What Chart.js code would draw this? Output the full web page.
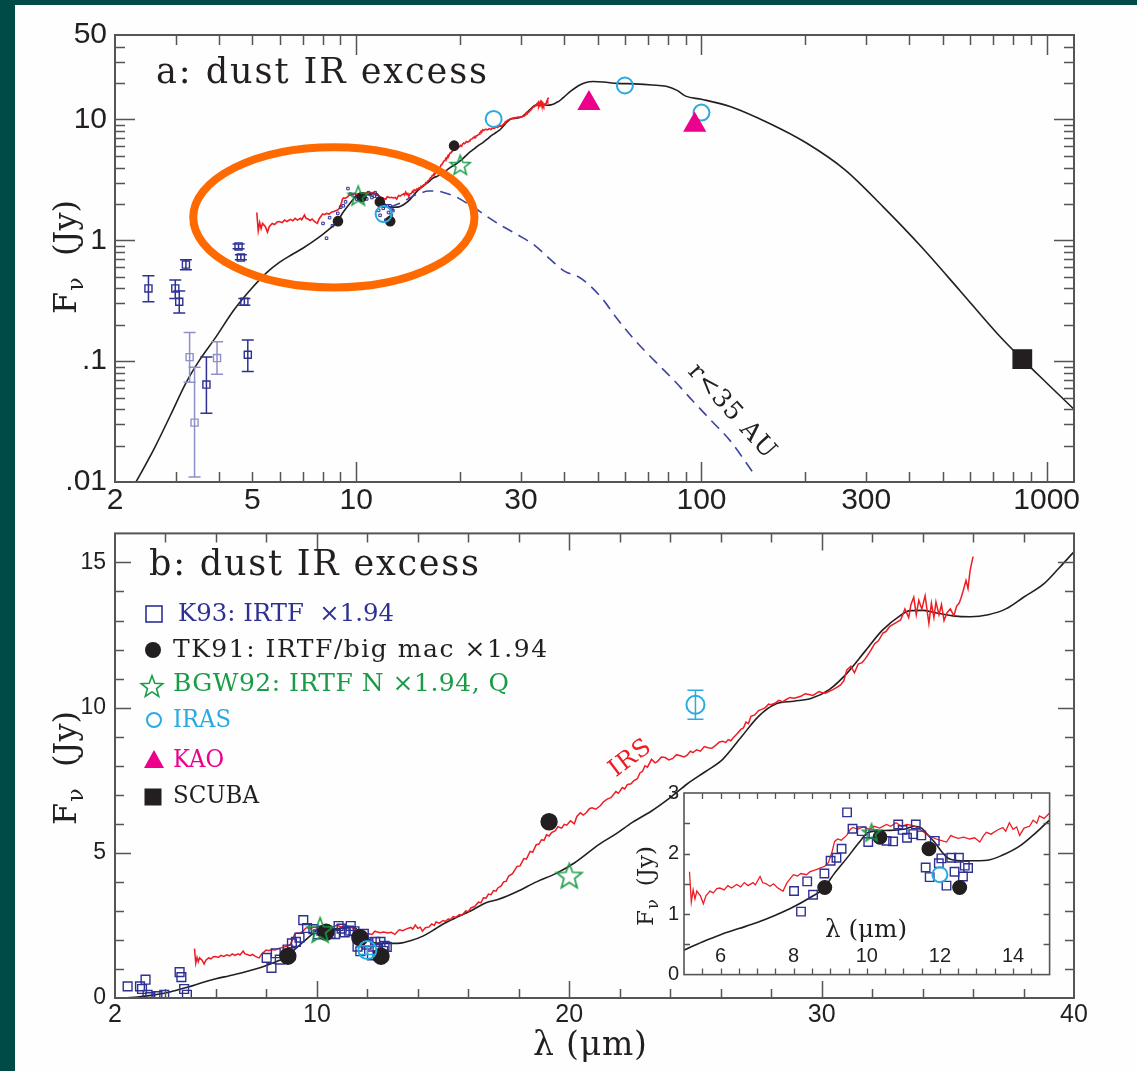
<!DOCTYPE html>
<html>
<head>
<meta charset="utf-8">
<title>dust IR excess</title>
<script src="https://cdn.jsdelivr.net/npm/chart.js@4.4.1/dist/chart.umd.min.js"></script>
<style>
  html, body { margin: 0; padding: 0; }
  body { width: 1137px; height: 1071px; background: #004a47; position: relative; overflow: hidden; }
  #sheet { position: absolute; left: 15px; top: 5px; right: 0; bottom: 0; background: #fdfefd; }
  canvas { position: absolute; }
  #top { left: 0; top: 0; }
  #bottom { left: 0; top: 520px; }
  #inset { left: 620px; top: 770px; }
</style>
</head>
<body>
<div id="sheet"></div>
<canvas id="top" width="1137" height="520"></canvas>
<canvas id="bottom" width="1137" height="551"></canvas>
<canvas id="inset" width="440" height="215"></canvas>
<script>
// ---------------- data ----------------
// total model SED (wavelength in micron, flux in Jy)
const modelLam = [2.0, 2.3, 2.6, 2.9, 3.2, 3.5, 3.9, 4.4, 4.9, 5.5, 6.0, 6.5, 7.0, 7.5, 8.0, 8.5, 8.8, 9.1, 9.45, 9.8,
  10.05, 10.5, 11.0, 11.3, 11.5, 11.65, 11.85, 12.05, 12.2, 12.4, 12.8, 13.3, 13.7, 14.2, 14.6, 15.0, 15.65, 16.2, 16.7, 17.2,
  17.9, 18.7, 19.5, 20.2, 21.2, 21.85, 22.5, 23.26, 24.0, 24.67, 25.4, 26.08, 26.8, 27.5, 28.2, 28.9, 29.6, 30.3, 31.0, 31.7,
  32.4, 33.1, 33.5, 34.0, 34.5, 35.2, 35.9, 36.6, 37.3, 38.0, 38.8, 39.4, 40.0, 42, 44, 46, 48.6, 52, 57, 64,
  72, 79, 85, 90, 100, 121, 157, 202, 261, 336, 434, 560, 721, 849, 1000, 1200];
const modelFlux = [0.005, 0.010, 0.019, 0.036, 0.065, 0.10, 0.155, 0.26, 0.38, 0.54, 0.66, 0.76, 0.86, 0.98, 1.12, 1.29, 1.41, 1.66, 1.92, 2.19,
  2.35, 2.38, 2.40, 2.45, 2.42, 2.32, 2.19, 2.03, 1.93, 1.89, 1.88, 1.89, 1.97, 2.13, 2.33, 2.55, 2.82, 3.05, 3.28, 3.40,
  3.65, 4.00, 4.30, 4.65, 5.30, 5.65, 6.05, 6.44, 6.90, 7.37, 7.80, 8.22, 8.97, 9.70, 10.13, 10.22, 10.32, 10.62, 11.18, 11.92,
  12.66, 13.16, 13.34, 13.35, 13.27, 13.16, 13.13, 13.20, 13.40, 13.80, 14.26, 14.80, 15.37, 17.3, 19.0, 20.1, 20.6, 20.4, 19.9, 19.7,
  19.3, 18.8, 17.4, 15.6, 14.7, 12.8, 9.3, 6.35, 3.81, 1.89, 0.88, 0.385, 0.168, 0.104, 0.066, 0.040];

// inner-disk component (r < 35 AU)
const innerLam = [12.5, 13.5, 14.5, 15.3, 16.2, 17.2, 18.2, 19.4, 20.5, 21.8, 23.2, 26.0, 29.5, 33.0, 36.0, 40.3, 44.0, 47.6,
  52.0, 56.6, 64.0, 73.3, 83.0, 94.3, 107, 121, 141];
const innerFlux = [1.88, 2.05, 2.30, 2.45, 2.56, 2.55, 2.45, 2.30, 2.10, 1.90, 1.67, 1.35, 1.10, 0.90, 0.72, 0.55, 0.50, 0.42,
  0.32, 0.23, 0.15, 0.10, 0.07, 0.047, 0.032, 0.022, 0.012];

// Spitzer IRS spectrum
const irsLam = [
  5.15, 5.2, 5.25, 5.3, 5.35, 5.45, 5.53, 5.6, 5.71, 5.8,
  5.9, 5.98, 6.1, 6.2, 6.3, 6.44, 6.55, 6.65, 6.75, 6.89,
  6.95, 7.08, 7.15, 7.25, 7.35, 7.45, 7.55, 7.65, 7.71, 7.81,
  7.9, 7.99, 8.1, 8.2, 8.35, 8.45, 8.6, 8.72, 8.85, 8.95,
  9.05, 9.12, 9.2, 9.3, 9.45, 9.55, 9.62, 9.75, 9.9, 10.08,
  10.2, 10.35, 10.54, 10.65, 10.8, 10.95, 11.1, 11.27, 11.4, 11.5,
  11.63, 11.75, 11.9, 12.0, 12.18, 12.3, 12.36, 12.5, 12.65, 12.81,
  12.95, 13.09, 13.2, 13.27, 13.4, 13.55, 13.72, 13.8, 13.9, 14.0,
  14.1, 14.18, 14.3, 14.45, 14.55, 14.65, 14.72, 14.85, 15.0, 15.1,
  15.2, 15.3, 15.4, 15.5, 15.65, 15.75, 15.9, 16.0, 16.1, 16.25,
  16.4, 16.5, 16.6, 16.7, 16.8, 16.9, 17.0, 17.1, 17.17, 17.3,
  17.4, 17.5, 17.6, 17.75, 17.93, 18.05, 18.2, 18.3, 18.45, 18.55,
  18.69, 18.8, 18.9, 19.0, 19.1, 19.2, 19.3, 19.45, 19.55, 19.7,
  19.8, 19.9, 20.05, 20.2, 20.3, 20.44, 20.55, 20.67, 20.8, 20.9,
  21.05, 21.24, 21.35, 21.5, 21.65, 21.85, 21.95, 22.1, 22.2, 22.3,
  22.45, 22.55, 22.7, 22.8, 22.9, 23.0, 23.1, 23.26, 23.4, 23.5,
  23.65, 23.8, 23.95, 24.1, 24.25, 24.4, 24.55, 24.67, 24.8, 24.9,
  25.05, 25.2, 25.35, 25.5, 25.65, 25.8, 25.95, 26.08, 26.2, 26.3,
  26.4, 26.5, 26.65, 26.8, 26.9, 27.0, 27.1, 27.2, 27.35, 27.5,
  27.65, 27.77, 27.9, 28.0, 28.15, 28.3, 28.45, 28.6, 28.75, 28.9,
  29.05, 29.2, 29.35, 29.5, 29.65, 29.8, 29.9, 30.0, 30.15, 30.3,
  30.45, 30.6, 30.75, 30.88, 31.0, 31.16, 31.3, 31.45, 31.6, 31.72,
  31.9, 32.0, 32.1, 32.25, 32.43, 32.55, 32.7, 32.9, 33.0, 33.13,
  33.3, 33.45, 33.54, 33.65, 33.75, 33.85, 33.97, 34.1, 34.25, 34.35,
  34.45, 34.53, 34.65, 34.75, 34.85, 34.97, 35.1, 35.24, 35.35, 35.45,
  35.52, 35.6, 35.72, 35.8, 35.88, 35.95, 36.0];
const irsFlux = [
  1.70, 1.20, 1.40, 1.25, 1.38, 1.30, 1.17, 1.30, 1.38, 1.35,
  1.42, 1.43, 1.40, 1.47, 1.43, 1.49, 1.45, 1.52, 1.47, 1.52,
  1.48, 1.62, 1.52, 1.50, 1.46, 1.50, 1.44, 1.40, 1.38, 1.51,
  1.58, 1.65, 1.63, 1.67, 1.65, 1.70, 1.73, 1.76, 1.79, 1.85,
  2.03, 2.20, 2.24, 2.22, 2.30, 2.40, 2.43, 2.40, 2.44, 2.40,
  2.45, 2.42, 2.48, 2.45, 2.51, 2.45, 2.48, 2.46, 2.42, 2.38,
  2.32, 2.28, 2.24, 2.22, 2.19, 2.30, 2.28, 2.25, 2.27, 2.24,
  2.26, 2.19, 2.30, 2.35, 2.32, 2.38, 2.43, 2.37, 2.51, 2.40,
  2.44, 2.30, 2.42, 2.45, 2.55, 2.50, 2.62, 2.58, 2.67, 2.64,
  2.72, 2.70, 2.80, 2.78, 2.87, 2.85, 3.00, 2.97, 3.10, 3.15,
  3.30, 3.28, 3.45, 3.44, 3.58, 3.56, 3.70, 3.68, 3.79, 3.86,
  4.00, 4.02, 4.20, 4.28, 4.53, 4.55, 4.80, 4.78, 5.05, 5.02,
  5.28, 5.30, 5.45, 5.43, 5.62, 5.58, 5.70, 5.76, 5.90, 5.85,
  5.98, 5.95, 6.10, 6.00, 6.25, 6.38, 6.30, 6.38, 6.52, 6.55,
  6.50, 6.63, 6.75, 6.85, 6.90, 7.11, 7.05, 7.25, 7.20, 7.35,
  7.38, 7.48, 7.55, 7.75, 7.80, 8.00, 7.95, 8.22, 8.10, 8.15,
  8.30, 8.28, 8.20, 8.25, 8.38, 8.34, 8.30, 8.36, 8.50, 8.45,
  8.55, 8.50, 8.66, 8.62, 8.60, 8.70, 8.82, 8.84, 8.80, 8.90,
  8.86, 8.96, 9.10, 9.25, 9.30, 9.50, 9.45, 9.70, 9.75, 9.90,
  9.95, 10.00, 10.12, 10.10, 10.15, 10.25, 10.20, 10.28, 10.35, 10.32,
  10.36, 10.40, 10.48, 10.45, 10.42, 10.50, 10.55, 10.52, 10.50, 10.56,
  10.62, 10.70, 10.78, 10.93, 11.30, 11.43, 11.20, 11.50, 11.55, 11.67,
  11.90, 12.05, 12.20, 12.30, 12.57, 12.62, 12.80, 12.90, 12.95, 13.02,
  13.40, 13.10, 13.55, 13.80, 13.20, 13.70, 13.39, 13.85, 12.90, 13.60,
  13.10, 13.64, 13.20, 13.55, 13.00, 13.27, 13.40, 13.16, 13.50, 13.60,
  13.77, 14.00, 14.38, 14.10, 14.70, 15.00, 15.20];

// K93: IRTF photometry (x1.94), with error bars
const k93Lam = [2.50, 2.99, 3.07, 3.21, 3.68, 4.56, 4.63, 4.74, 4.85];
const k93Flux = [0.40, 0.40, 0.31, 0.63, 0.064, 0.89, 0.72, 0.31, 0.113];
const k93Lo = [0.31, 0.33, 0.25, 0.57, 0.037, 0.85, 0.69, 0.29, 0.082];
const k93Hi = [0.51, 0.47, 0.38, 0.69, 0.108, 0.93, 0.76, 0.33, 0.150];
// K93 low-weight points
const k93WeakLam = [3.29, 3.40, 3.95];
const k93WeakFlux = [0.108, 0.031, 0.106];
const k93WeakLo = [0.067, 0.011, 0.078];
const k93WeakHi = [0.173, 0.089, 0.145];
// K93 N-band spectrophotometry
const k93nLam = [8.01, 8.20, 8.37, 8.53, 8.84, 9.01, 9.17, 9.31, 9.46, 9.61, 9.86, 10.04, 10.18, 10.54, 10.72, 10.86, 10.98,
  11.10, 11.27, 11.34, 11.49, 11.61, 11.72, 11.86, 11.97, 12.04, 12.18, 12.31, 12.40, 12.52, 12.63, 12.68, 12.77];
const k93nFlux = [1.38, 1.04, 1.54, 1.32, 1.67, 1.88, 1.93, 2.08, 2.68, 2.41, 2.37, 2.19, 2.32, 2.21, 2.20, 2.48, 2.39,
  2.26, 2.32, 2.48, 2.30, 1.77, 1.61, 2.21, 1.84, 1.92, 1.47, 1.93, 1.70, 1.93, 1.62, 1.80, 1.76];

// TK91: IRTF / big mac (x1.94)
const tk91Lam = [8.85, 10.36, 11.70, 12.54, 19.2];
const tk91Flux = [1.44, 2.27, 2.08, 1.44, 6.07];
// BGW92: IRTF N (x1.94), Q
const bgwLam = [10.13, 20.0];
const bgwFlux = [2.35, 4.22];
// IRAS
const irasLam = [12, 25, 60, 100];
const irasFlux = [1.65, 10.1, 19.1, 11.4];
const irasLo = [1.50, 9.6, 18.3, 10.8];
const irasHi = [1.80, 10.6, 19.9, 12.0];
// KAO
const kaoLam = [47.2, 95.6];
const kaoFlux = [13.6, 9.0];
// SCUBA
const scubaLam = [850];
const scubaFlux = [0.104];

// tick labels
const topXTicks = [2, 5, 10, 30, 100, 300, 1000];
const topYTicks = [0.01, 0.1, 1, 10, 50];
const botXTicks = [2, 10, 20, 30, 40];
const botYTicks = [0, 5, 10, 15];
const insetXTicks = [6, 8, 10, 12, 14];
const insetYTicks = [0, 1, 2, 3];

// highlighted region in panel a (lambda range, flux range)
const ringLam = [3.37, 22.0];
const ringFlux = [0.407, 5.9];

// ---------------- styling ----------------
const serif = '"DejaVu Serif", "Liberation Serif", serif';
const sansFamily = '"Liberation Sans", Arial, sans-serif';
const ink = '#231f20';
const frameInk = '#555555';
const k93Blue = '#2e3192';
const k93Weak = '#8e90c8';
const green = '#1a9b48';
const irasBlue = '#29abe2';
const kaoPink = '#ec008c';
const irsRed = '#ef1c24';
const innerBlue = '#3d43a0';

const pts = (xs, ys) => xs.map((x, i) => ({ x, y: ys[i] }));

function starMark(size, color, lw) {
  const c = document.createElement('canvas');
  c.width = c.height = size;
  const g = c.getContext('2d');
  const R = size / 2 - lw, r = R * 0.42, cx = size / 2, cy = size / 2 + R * 0.1;
  g.beginPath();
  for (let i = 0; i < 10; i++) {
    const a = -Math.PI / 2 + i * Math.PI / 5, d = i % 2 ? r : R;
    g.lineTo(cx + d * Math.cos(a), cy + d * Math.sin(a));
  }
  g.closePath();
  g.strokeStyle = color;
  g.lineWidth = lw;
  g.stroke();
  return c;
}

// draws a string fitted to a given width (letter spacing, or squeeze if too wide)
function spacedText(ctx, str, x, y, width, font, color, align) {
  ctx.save();
  ctx.font = font;
  ctx.fillStyle = color;
  ctx.textBaseline = 'alphabetic';
  ctx.textAlign = 'left';
  const natural = ctx.measureText(str).width;
  const x0 = align === 'center' ? x - width / 2 : x;
  const gap = (width - natural) / Math.max(str.length - 1, 1);
  if ('letterSpacing' in ctx && gap > 0) {
    ctx.letterSpacing = gap.toFixed(2) + 'px';
    ctx.fillText(str, x0, y);
  } else {
    ctx.translate(x0, y);
    ctx.scale(width / natural, 1);
    ctx.fillText(str, 0, 0);
  }
  ctx.restore();
}

function rotatedText(ctx, str, cx, cy, deg, width, size, color) {
  ctx.save();
  ctx.translate(cx, cy);
  ctx.rotate(deg * Math.PI / 180);
  spacedText(ctx, str, 0, size * 0.35, width, `${size}px ${serif}`, color, 'center');
  ctx.restore();
}

// vertical "F_nu (Jy)" axis title; x is the baseline, y the centre
function drawFnu(ctx, x, y, size, span) {
  ctx.save();
  ctx.translate(x, y);
  ctx.rotate(-Math.PI / 2);
  ctx.fillStyle = ink;
  const big = `${size}px ${serif}`, small = `${Math.round(size * 0.68)}px ${serif}`;
  ctx.font = big;
  const wF = ctx.measureText('F').width, wJ = ctx.measureText('(Jy)').width;
  ctx.font = small;
  const wN = ctx.measureText('ν').width;
  const space = span - wF - wN - wJ;
  let p = -span / 2;
  ctx.font = big; ctx.fillText('F', p, 0); p += wF + 1;
  ctx.font = small; ctx.fillText('ν', p, size * 0.22); p += wN + space - 1;
  ctx.font = big; ctx.fillText('(Jy)', p, 0);
  ctx.restore();
}

function axis(o) {
  return {
    type: o.type, min: o.min, max: o.max, bounds: 'data',
    afterBuildTicks: s => { s.ticks = o.values.map(v => ({ value: v })); },
    afterFit: s => {
      if (o.horizontal) s.height = o.size; else s.width = o.size;
      s.paddingLeft = s.paddingRight = s.paddingTop = s.paddingBottom = 0;
    },
    grid: { display: false, drawTicks: false },
    border: { display: false },
    ticks: {
      display: o.show !== false, autoSkip: false, maxRotation: 0, minRotation: 0,
      padding: o.pad, color: ink, font: { family: sansFamily, size: o.font },
      callback: o.fmt || (v => String(v))
    }
  };
}

// frame with inward ticks on all four sides
function frameTicks(spec) {
  return {
    id: 'frameTicks',
    afterDatasetsDraw(chart) {
      const { ctx, chartArea: a, scales: { x, y } } = chart;
      ctx.save();
      ctx.strokeStyle = frameInk;
      ctx.lineWidth = spec.tickWidth;
      ctx.beginPath();
      const xt = (vals, len) => vals.forEach(v => {
        const px = Math.round(x.getPixelForValue(v)) + 0.5;
        ctx.moveTo(px, a.bottom); ctx.lineTo(px, a.bottom - len);
        ctx.moveTo(px, a.top); ctx.lineTo(px, a.top + len);
      });
      const yt = (vals, len) => vals.forEach(v => {
        const py = Math.round(y.getPixelForValue(v)) + 0.5;
        ctx.moveTo(a.left, py); ctx.lineTo(a.left + len, py);
        ctx.moveTo(a.right, py); ctx.lineTo(a.right - len, py);
      });
      xt(spec.xMinor, spec.xMinorLen); xt(spec.xMajor, spec.xMajorLen);
      yt(spec.yMinor, spec.yMinorLen); yt(spec.yMajor, spec.yMajorLen);
      ctx.stroke();
      ctx.lineWidth = spec.frameWidth;
      ctx.strokeRect(a.left, a.top, a.right - a.left, a.bottom - a.top);
      ctx.restore();
    }
  };
}

const errorBars = {
  id: 'errorBars',
  afterDatasetsDraw(chart) {
    const { ctx, chartArea: a, scales: { y } } = chart;
    ctx.save();
    ctx.beginPath();
    ctx.rect(a.left, a.top, a.right - a.left, a.bottom - a.top);
    ctx.clip();
    chart.data.datasets.forEach((ds, i) => {
      if (!ds.errLo) return;
      ctx.strokeStyle = ds.errColor;
      ctx.lineWidth = 1.5;
      chart.getDatasetMeta(i).data.forEach((pt, j) => {
        const t = y.getPixelForValue(ds.errHi[j]), b = y.getPixelForValue(ds.errLo[j]), c = ds.errCap;
        ctx.beginPath();
        ctx.moveTo(pt.x, t); ctx.lineTo(pt.x, b);
        ctx.moveTo(pt.x - c, t); ctx.lineTo(pt.x + c, t);
        ctx.moveTo(pt.x - c, b); ctx.lineTo(pt.x + c, b);
        ctx.stroke();
      });
    });
    ctx.restore();
  }
};

const lineSet = (xs, ys, color, width, extra) => Object.assign({
  data: pts(xs, ys), showLine: true, pointRadius: 0, borderColor: color, borderWidth: width,
  tension: 0, order: 5
}, extra);
const smooth = { cubicInterpolationMode: 'monotone' };

const markSet = (xs, ys, extra) => Object.assign({
  data: pts(xs, ys), showLine: false, order: 1, pointBorderWidth: 1.4,
  pointBackgroundColor: 'rgba(0,0,0,0)'
}, extra);

const baseOptions = (padding, x, y) => ({
  responsive: false, animation: false, devicePixelRatio: 1, events: [],
  layout: { padding },
  plugins: { legend: { display: false }, tooltip: { enabled: false } },
  scales: { x, y }
});

function logMinor(lo, hi) {
  const out = [];
  for (let e = -3; e <= 4; e++) {
    for (let m = 2; m <= 9; m++) {
      const v = +(m * Math.pow(10, e)).toPrecision(3);
      if (v > lo && v < hi) out.push(v);
    }
  }
  return out;
}
function stepTicks(lo, hi, step, skip) {
  const out = [];
  for (let v = lo; v <= hi + 1e-9; v += step) {
    const r = +v.toFixed(2);
    if (!skip.includes(r)) out.push(r);
  }
  return out;
}

// ---------------- panel a: log-log SED ----------------
const topNotes = {
  id: 'topNotes',
  afterDatasetsDraw(chart) {
    const { ctx, scales: { x, y } } = chart;
    const l = x.getPixelForValue(ringLam[0]), r = x.getPixelForValue(ringLam[1]);
    const t = y.getPixelForValue(ringFlux[1]), b = y.getPixelForValue(ringFlux[0]);
    ctx.save();
    ctx.strokeStyle = '#ff6a00';
    ctx.lineWidth = 8;
    ctx.beginPath();
    ctx.ellipse((l + r) / 2, (t + b) / 2, (r - l) / 2, (b - t) / 2, 0, 0, 2 * Math.PI);
    ctx.stroke();
    ctx.restore();
    spacedText(ctx, 'a: dust IR excess', 156, 83, 331, `35px ${serif}`, ink);
    drawFnu(ctx, 76, 257, 32, 114);
    rotatedText(ctx, 'r<35 AU', 733, 410, 48, 118, 25, ink);
  }
};

new Chart(document.getElementById('top'), {
  type: 'scatter',
  data: {
    datasets: [
      markSet(scubaLam, scubaFlux, { pointStyle: 'rect', pointRadius: 13, pointBorderColor: ink, pointBackgroundColor: ink }),
      markSet(kaoLam, kaoFlux, { pointStyle: 'triangle', pointRadius: 12, pointBorderColor: kaoPink, pointBackgroundColor: kaoPink }),
      markSet(irasLam, irasFlux, { pointStyle: 'circle', pointRadius: 8, pointBorderWidth: 2, pointBorderColor: irasBlue }),
      markSet(bgwLam, bgwFlux, { pointStyle: starMark(24, green, 1.5), pointRadius: 10 }),
      markSet(tk91Lam, tk91Flux, { pointStyle: 'circle', pointRadius: 4.6, pointBorderColor: ink, pointBackgroundColor: ink }),
      markSet(k93nLam, k93nFlux, { pointStyle: 'rect', pointRadius: 1.8, pointBorderWidth: 1, pointBorderColor: k93Blue }),
      markSet(k93Lam, k93Flux, { pointStyle: 'rect', pointRadius: 5, pointBorderColor: k93Blue,
        errLo: k93Lo, errHi: k93Hi, errColor: k93Blue, errCap: 6 }),
      markSet(k93WeakLam, k93WeakFlux, { pointStyle: 'rect', pointRadius: 5, pointBorderColor: k93Weak,
        errLo: k93WeakLo, errHi: k93WeakHi, errColor: k93Weak, errCap: 6 }),
      lineSet(irsLam, irsFlux, irsRed, 1.6),
      lineSet(innerLam, innerFlux, innerBlue, 1.6, Object.assign({ borderDash: [11, 7] }, smooth)),
      lineSet(modelLam, modelFlux, ink, 1.6, smooth)
    ]
  },
  options: baseOptions({ top: 35, right: 63, left: 0, bottom: 0 },
    axis({ type: 'logarithmic', min: 2, max: 1200, values: topXTicks, size: 38, font: 30, pad: 1, horizontal: true }),
    axis({ type: 'logarithmic', min: 0.01, max: 50, values: topYTicks, size: 115, font: 30, pad: 8,
      fmt: v => (v < 1 ? String(v).replace('0.', '.') : String(v)) })),
  plugins: [errorBars, frameTicks({
    xMinor: logMinor(2, 1200), xMajor: [10, 100, 1000], yMinor: logMinor(0.01, 50), yMajor: [0.1, 1, 10],
    xMinorLen: 10, xMajorLen: 20, yMinorLen: 10, yMajorLen: 20, tickWidth: 1.5, frameWidth: 2
  }), topNotes]
});

// ---------------- panel b: linear 2-40 micron ----------------
function legendMark(ctx, kind, x, y) {
  ctx.save();
  ctx.lineWidth = 1.6;
  if (kind === 'square') { ctx.strokeStyle = k93Blue; ctx.strokeRect(x - 8, y - 8, 16, 16); }
  if (kind === 'dot') { ctx.fillStyle = ink; ctx.beginPath(); ctx.arc(x, y, 8, 0, 2 * Math.PI); ctx.fill(); }
  if (kind === 'star') { const s = starMark(26, green, 1.6); ctx.drawImage(s, x - 13, y - 13); }
  if (kind === 'ring') { ctx.strokeStyle = irasBlue; ctx.lineWidth = 2; ctx.beginPath(); ctx.arc(x, y, 7, 0, 2 * Math.PI); ctx.stroke(); }
  if (kind === 'tri') {
    ctx.fillStyle = kaoPink; ctx.beginPath();
    ctx.moveTo(x, y - 10); ctx.lineTo(x + 10, y + 8); ctx.lineTo(x - 10, y + 8); ctx.closePath(); ctx.fill();
  }
  if (kind === 'block') { ctx.fillStyle = ink; ctx.fillRect(x - 8.5, y - 8.5, 17, 17); }
  ctx.restore();
}

const bottomNotes = {
  id: 'bottomNotes',
  afterDatasetsDraw(chart) {
    const ctx = chart.ctx;
    spacedText(ctx, 'b: dust IR excess', 149, 55, 330, `35px ${serif}`, ink);
    const f = `25px ${serif}`;
    legendMark(ctx, 'square', 154, 94);
    spacedText(ctx, 'K93: IRTF  ×1.94', 178, 101, 216, f, k93Blue);
    legendMark(ctx, 'dot', 153, 130);
    spacedText(ctx, 'TK91: IRTF/big mac ×1.94', 173, 137, 374, f, ink);
    legendMark(ctx, 'star', 152, 166);
    spacedText(ctx, 'BGW92: IRTF N ×1.94, Q', 173, 171, 336, f, green);
    legendMark(ctx, 'ring', 154, 200);
    spacedText(ctx, 'IRAS', 173, 207, 58, f, irasBlue);
    legendMark(ctx, 'tri', 154, 240);
    spacedText(ctx, 'KAO', 173, 247, 51, f, kaoPink);
    legendMark(ctx, 'block', 153, 277);
    spacedText(ctx, 'SCUBA', 173, 283, 86, f, ink);
    drawFnu(ctx, 76, 248, 32, 114);
    spacedText(ctx, 'λ (μm)', 590, 535, 114, `33px ${serif}`, ink, 'center');
    rotatedText(ctx, 'IRS', 629, 237, -37, 46, 24, irsRed);
  }
};

new Chart(document.getElementById('bottom'), {
  type: 'scatter',
  data: {
    datasets: [
      markSet(irasLam, irasFlux, { pointStyle: 'circle', pointRadius: 9, pointBorderWidth: 2, pointBorderColor: irasBlue,
        errLo: irasLo, errHi: irasHi, errColor: irasBlue, errCap: 8 }),
      markSet(bgwLam, bgwFlux, { pointStyle: starMark(30, green, 1.6), pointRadius: 12 }),
      markSet(tk91Lam, tk91Flux, { pointStyle: 'circle', pointRadius: 8, pointBorderColor: ink, pointBackgroundColor: ink }),
      markSet(k93nLam, k93nFlux, { pointStyle: 'rect', pointRadius: 6.2, pointBorderColor: k93Blue }),
      markSet(k93Lam, k93Flux, { pointStyle: 'rect', pointRadius: 6.2, pointBorderColor: k93Blue }),
      markSet(k93WeakLam, k93WeakFlux, { pointStyle: 'rect', pointRadius: 6.2, pointBorderColor: k93Blue }),
      lineSet(irsLam, irsFlux, irsRed, 1.5),
      lineSet(modelLam, modelFlux, ink, 1.6, smooth)
    ]
  },
  options: baseOptions({ top: 7, right: 63, left: 0, bottom: 0 },
    axis({ type: 'linear', min: 2, max: 40, values: botXTicks, size: 73, font: 25, pad: 2, horizontal: true }),
    axis({ type: 'linear', min: 0, max: 16, values: botYTicks, size: 115, font: 23, pad: 9 })),
  plugins: [errorBars, frameTicks({
    xMinor: stepTicks(4, 38, 2, [10, 20, 30]), xMajor: [10, 20, 30],
    yMinor: stepTicks(1, 15, 1, [5, 10, 15]), yMajor: [5, 10, 15],
    xMinorLen: 9, xMajorLen: 17, yMinorLen: 9, yMajorLen: 16, tickWidth: 1.5, frameWidth: 2
  }), bottomNotes]
});

// ---------------- inset: N-band detail ----------------
const insetNotes = {
  id: 'insetNotes',
  beforeDraw(chart) {
    const { ctx, chartArea: a } = chart;
    ctx.save();
    ctx.fillStyle = '#ffffff';
    ctx.fillRect(a.left, a.top, a.right - a.left, a.bottom - a.top);
    ctx.restore();
  },
  afterDatasetsDraw(chart) {
    const { ctx, scales: { x } } = chart;
    ctx.save();
    ctx.fillStyle = ink;
    ctx.font = `20px ${sansFamily}`;
    ctx.textAlign = 'center';
    ctx.textBaseline = 'middle';
    insetXTicks.forEach(v => ctx.fillText(String(v), x.getPixelForValue(v), 186));
    ctx.restore();
    spacedText(ctx, 'λ (μm)', 246, 167, 82, `25px ${serif}`, ink, 'center');
    drawFnu(ctx, 33, 116, 23, 80);
  }
};

new Chart(document.getElementById('inset'), {
  type: 'scatter',
  data: {
    datasets: [
      markSet([irasLam[0]], [irasFlux[0]], { pointStyle: 'circle', pointRadius: 7.5, pointBorderWidth: 2, pointBorderColor: irasBlue }),
      markSet(bgwLam, bgwFlux, { pointStyle: starMark(22, green, 1.5), pointRadius: 9 }),
      markSet(tk91Lam, tk91Flux, { pointStyle: 'circle', pointRadius: 6.8, pointBorderColor: ink, pointBackgroundColor: ink }),
      markSet(k93nLam, k93nFlux, { pointStyle: 'rect', pointRadius: 6, pointBorderColor: k93Blue }),
      lineSet(irsLam, irsFlux, irsRed, 1.3),
      lineSet(modelLam, modelFlux, ink, 1.6, smooth)
    ]
  },
  options: baseOptions({ top: 23, right: 10, left: 0, bottom: 0 },
    axis({ type: 'linear', min: 5, max: 15, values: insetXTicks, size: 6, font: 20, pad: 0, horizontal: true, show: false }),
    axis({ type: 'linear', min: 0, max: 3, values: insetYTicks, size: 64, font: 20, pad: 5 })),
  plugins: [insetNotes, frameTicks({
    xMinor: stepTicks(5.5, 14.5, 0.5, []), xMajor: [], yMinor: stepTicks(0.5, 2.5, 0.5, []), yMajor: [],
    xMinorLen: 6, xMajorLen: 6, yMinorLen: 6, yMajorLen: 6, tickWidth: 1.3, frameWidth: 1.6
  })]
});
</script>
</body>
</html>
